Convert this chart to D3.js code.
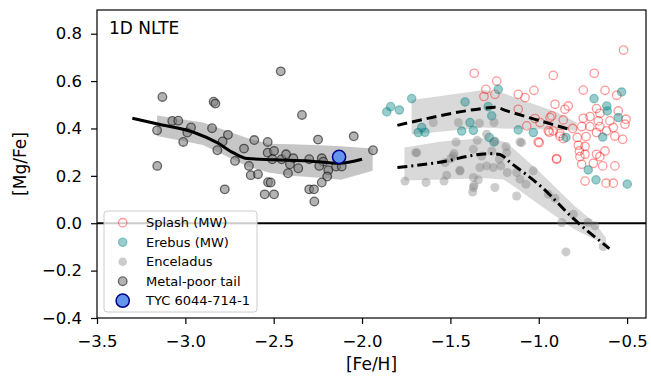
<!DOCTYPE html>
<html><head><meta charset="utf-8">
<script src="https://cdn.jsdelivr.net/npm/d3@7"></script>
<style>body{margin:0;background:#fff}svg{display:block;font-family:"DejaVu Sans",sans-serif}</style>
</head><body><svg id="c" width="651" height="376"></svg>
<script>
// ---- data ----
const xTicks = [-3.5, -3.0, -2.5, -2.0, -1.5, -1.0, -0.5];
const yTicks = [-0.4, -0.2, 0.0, 0.2, 0.4, 0.6, 0.8];
const legendLabels = ["Splash (MW)", "Erebus (MW)", "Enceladus", "Metal-poor tail", "TYC 6044-714-1"];

const mptFe = [-3.13,-2.84,-2.83,-3.074,-3.04,-3.16,-2.989,-2.968,-3.012,-2.849,-2.759,-2.789,-2.819,-2.61,-2.668,-2.719,-2.64,-2.63,-2.589,-3.159,-2.777,-2.534,-2.534,-2.551,-2.532,-2.46,-2.34,-2.249,-2.047,-1.938,-2.498,-2.508,-2.455,-2.43,-2.389,-2.408,-2.361,-2.419,-2.299,-2.228,-2.219,-2.242,-2.191,-2.197,-2.228,-2.147,-2.115,-2.517,-2.498,-2.299,-2.272,-2.27];
const mptMg = [0.533,0.513,0.505,0.432,0.433,0.392,0.383,0.404,0.343,0.401,0.373,0.345,0.308,0.351,0.315,0.263,0.242,0.203,0.207,0.242,0.143,0.343,0.298,0.122,0.173,0.641,0.457,0.353,0.367,0.308,0.305,0.27,0.27,0.291,0.274,0.249,0.232,0.211,0.27,0.274,0.26,0.242,0.224,0.197,0.172,0.239,0.239,0.172,0.122,0.143,0.143,0.092];

const encFe = [-1.597,-1.455,-1.336,-1.253,-1.696,-1.468,-1.348,-1.295,-1.248,-1.185,-1.48,-1.497,-1.37,-1.323,-1.266,-1.223,-1.446,-1.333,-1.295,-1.257,-1.215,-1.178,-1.757,-1.638,-1.536,-1.521,-1.37,-1.342,-1.366,-1.374,-1.248,-1.106,-1.181,-1.53,-1.483,-1.446,-1.125,-1.106,-1.125,-1.031,-1.072,-0.946,-0.908,-0.87,-0.804,-0.72,-0.682,-0.846,-0.635,-1.097,-1.69,-1.37];
const encMg = [0.425,0.425,0.422,0.425,0.298,0.343,0.35,0.376,0.347,0.324,0.294,0.273,0.312,0.284,0.305,0.27,0.224,0.235,0.242,0.235,0.242,0.214,0.178,0.172,0.178,0.203,0.193,0.183,0.16,0.132,0.151,0.343,0.298,0.256,0.284,0.22,0.214,0.186,0.115,0.221,0.165,0.122,0.105,0.003,0.038,0.003,-0.011,-0.121,-0.098,0.34,0.298,0.151];

const ereFe = [-1.86,-1.838,-1.789,-1.719,-1.682,-1.662,-1.644,-1.417,-1.436,-1.37,-1.389,-1.286,-1.266,-1.229,-1.28,-1.253,-1.116,-1.031,-0.846,-0.687,-0.615,-0.612,-0.55,-0.531,-0.638,-0.72,-0.676,-0.499];
const ereMg = [0.47,0.492,0.478,0.526,0.383,0.404,0.384,0.512,0.389,0.392,0.425,0.492,0.453,0.565,0.362,0.343,0.394,0.383,0.362,0.526,0.495,0.474,0.446,0.554,0.364,0.225,0.183,0.165];

const splFe = [-0.52,-0.918,-0.686,-1.027,-0.748,-0.625,-0.559,-1.116,-1.078,-0.908,-0.852,-0.833,-1.116,-0.673,-0.654,-0.55,-0.748,-0.71,-0.663,-0.597,-0.506,-0.512,-0.927,-0.861,-1.068,-0.946,-0.88,-0.861,-0.808,-0.782,-0.757,-0.732,-0.71,-0.673,-0.654,-0.616,-0.578,-0.569,-0.525,-0.997,-0.776,-0.738,-0.77,-0.738,-0.767,-0.673,-0.654,-0.625,-0.757,-0.691,-0.638,-0.569,-0.899,-0.738,-0.619,-0.578,-1.365,-1.299,-1.238,-1.31,-1.248,-1.021,-0.993,-0.936,-0.918,-1.003,-0.899,-0.88,-0.94];
const splMg = [0.731,0.624,0.633,0.561,0.562,0.561,0.54,0.544,0.53,0.502,0.481,0.495,0.481,0.484,0.464,0.474,0.443,0.45,0.432,0.432,0.439,0.418,0.453,0.436,0.411,0.39,0.378,0.357,0.4,0.362,0.408,0.366,0.408,0.383,0.408,0.39,0.404,0.368,0.354,0.34,0.329,0.324,0.305,0.291,0.281,0.291,0.281,0.305,0.249,0.253,0.242,0.242,0.273,0.178,0.169,0.169,0.633,0.565,0.6,0.535,0.544,0.442,0.425,0.446,0.39,0.343,0.27,0.368,0.384];

const tycFe = [-2.13];
const tycMg = [0.28];

const mptLineFe = [-3.30,-3.15,-2.95,-2.82,-2.73,-2.65,-2.50,-2.30,-2.13,-2.00];
const mptLineMg = [0.443,0.418,0.383,0.340,0.298,0.273,0.268,0.263,0.253,0.270];
const mptBandFe = [-3.16,-2.90,-2.65,-2.53,-2.40,-2.20,-2.12,-1.94];
const mptBandHi = [0.455,0.425,0.36,0.335,0.333,0.328,0.325,0.315];
const mptBandLo = [0.368,0.33,0.24,0.214,0.20,0.19,0.183,0.221];

const ereLineFe = [-1.80,-1.30,-1.25,-1.18,-0.83];
const ereLineMg = [0.413,0.486,0.49,0.474,0.397];
const ereBandFe = [-1.72,-1.31,-1.21,-0.90,-0.785];
const ereBandHi = [0.52,0.562,0.551,0.47,0.425];
const ereBandLo = [0.375,0.404,0.40,0.395,0.39];

const encLineFe = [-1.80,-1.52,-1.39,-1.28,-1.22,-1.16,-0.99,-0.80,-0.60];
const encLineMg = [0.235,0.263,0.284,0.294,0.29,0.256,0.157,0.017,-0.107];
const encBandFe = [-1.76,-1.55,-1.30,-1.20,-1.15,-1.00,-0.80,-0.68,-0.62];
const encBandHi = [0.32,0.345,0.36,0.345,0.32,0.22,0.075,0.0,-0.06];
const encBandLo = [0.18,0.185,0.19,0.185,0.16,0.08,-0.025,-0.07,-0.085];

// ---- chart ----
const svg = d3.select("#c");
const L = 97, R = 646, T = 10, B = 318;
const x = d3.scaleLinear().domain([-3.5, -0.393]).range([L, R]);
const y = d3.scaleLinear().domain([-0.4, 0.9]).range([B, T]);
const fmt = v => d3.format(".1f")(v).replace("-", "\u2212");
const zip = (a, b) => a.map((v, i) => [v, b[i]]);
const zip3 = (a, b, c) => a.map((v, i) => [v, b[i], c[i]]);

const g = svg.append("g");
g.append("defs").append("clipPath").attr("id", "clip").append("rect")
  .attr("x", L).attr("y", T).attr("width", R - L).attr("height", B - T);
const plot = g.append("g").attr("clip-path", "url(#clip)");

// bands
const area = d3.area().x(d => x(d[0])).y0(d => y(d[2])).y1(d => y(d[1]));
plot.append("path").datum(zip3(mptBandFe, mptBandHi, mptBandLo)).attr("d", area)
  .attr("fill", "#808080").attr("fill-opacity", 0.45);
plot.append("path").datum(zip3(ereBandFe, ereBandHi, ereBandLo)).attr("d", area)
  .attr("fill", "#a0a0a0").attr("fill-opacity", 0.4);
plot.append("path").datum(zip3(encBandFe, encBandHi, encBandLo)).attr("d", area)
  .attr("fill", "#a0a0a0").attr("fill-opacity", 0.4);

// zero line
plot.append("line").attr("x1", L).attr("x2", R).attr("y1", y(0)).attr("y2", y(0))
  .attr("stroke", "#000").attr("stroke-width", 2);

// points
plot.append("g").selectAll("circle").data(zip(splFe, splMg)).join("circle")
  .attr("cx", d => x(d[0])).attr("cy", d => y(d[1])).attr("r", 4.2)
  .attr("fill", "none").attr("stroke", "#ff0000").attr("stroke-opacity", 0.4).attr("stroke-width", 1.3);
plot.append("g").selectAll("circle").data(zip(ereFe, ereMg)).join("circle")
  .attr("cx", d => x(d[0])).attr("cy", d => y(d[1])).attr("r", 4.2)
  .attr("fill", "#008080").attr("fill-opacity", 0.4)
  .attr("stroke", "#008080").attr("stroke-opacity", 0.4).attr("stroke-width", 1.2);
plot.append("g").selectAll("circle").data(zip(encFe, encMg)).join("circle")
  .attr("cx", d => x(d[0])).attr("cy", d => y(d[1])).attr("r", 4.5)
  .attr("fill", "#808080").attr("fill-opacity", 0.4);
plot.append("g").selectAll("circle").data(zip(mptFe, mptMg)).join("circle")
  .attr("cx", d => x(d[0])).attr("cy", d => y(d[1])).attr("r", 4.3)
  .attr("fill", "#808080").attr("fill-opacity", 0.6)
  .attr("stroke", "#000").attr("stroke-opacity", 0.55).attr("stroke-width", 1.3);

// trend lines
const line = d3.line().x(d => x(d[0])).y(d => y(d[1])).curve(d3.curveMonotoneX);
plot.append("path").datum(zip(mptLineFe, mptLineMg)).attr("d", line)
  .attr("fill", "none").attr("stroke", "#000").attr("stroke-width", 3);
plot.append("path").datum(zip(ereLineFe, ereLineMg)).attr("d", line)
  .attr("fill", "none").attr("stroke", "#000").attr("stroke-width", 3).attr("stroke-dasharray", "10,5");
plot.append("path").datum(zip(encLineFe, encLineMg)).attr("d", line)
  .attr("fill", "none").attr("stroke", "#000").attr("stroke-width", 3).attr("stroke-dasharray", "10,4,2,4");

// TYC star
plot.append("g").selectAll("circle").data(zip(tycFe, tycMg)).join("circle")
  .attr("cx", d => x(d[0])).attr("cy", d => y(d[1])).attr("r", 6.6)
  .attr("fill", "#6495ED").attr("stroke", "#00008b").attr("stroke-width", 1.5);

// axes
const xAxis = g.append("g").attr("transform", `translate(0,${B})`)
  .call(d3.axisBottom(x).tickValues(xTicks).tickFormat(fmt).tickSize(6).tickPadding(11));
const yAxis = g.append("g").attr("transform", `translate(${L},0)`)
  .call(d3.axisLeft(y).tickValues(yTicks).tickFormat(fmt).tickSize(6).tickPadding(9));
[xAxis, yAxis].forEach(a => {
  a.select(".domain").remove();
  a.selectAll("line").attr("stroke", "#000").attr("stroke-width", 1.2);
  a.selectAll("text").attr("fill", "#000").style("font-size", "16.5px").style("font-family", "DejaVu Sans");
});
g.append("rect").attr("x", L).attr("y", T).attr("width", R - L).attr("height", B - T)
  .attr("fill", "none").attr("stroke", "#000").attr("stroke-width", 1.2);

// labels
g.append("text").attr("x", (L + R) / 2).attr("y", 370).attr("text-anchor", "middle")
  .style("font-size", "17px").text("[Fe/H]");
g.append("text").attr("transform", `translate(26,${(T + B) / 2}) rotate(-90)`).attr("text-anchor", "middle")
  .style("font-size", "17px").text("[Mg/Fe]");
g.append("text").attr("x", 109).attr("y", 34).style("font-size", "17px").text("1D NLTE");

// legend
const lg = g.append("g");
lg.append("rect").attr("x", 104).attr("y", 211).attr("width", 153).attr("height", 101).attr("rx", 3)
  .attr("fill", "#fff").attr("fill-opacity", 0.8).attr("stroke", "#cccccc").attr("stroke-width", 1);
const rows = legendLabels.map((t, i) => ({t, i, yy: 222.7 + i * 19.5}));
rows.forEach(r => {
  const c = lg.append("circle").attr("cx", 122.7).attr("cy", r.yy);
  if (r.i === 0) c.attr("r", 4.2).attr("fill", "none").attr("stroke", "#ff0000").attr("stroke-opacity", 0.4).attr("stroke-width", 1.3);
  if (r.i === 1) c.attr("r", 4.2).attr("fill", "#008080").attr("fill-opacity", 0.4).attr("stroke", "#008080").attr("stroke-opacity", 0.4).attr("stroke-width", 1.2);
  if (r.i === 2) c.attr("r", 4.3).attr("fill", "#808080").attr("fill-opacity", 0.4);
  if (r.i === 3) c.attr("r", 4.3).attr("fill", "#808080").attr("fill-opacity", 0.6).attr("stroke", "#000").attr("stroke-opacity", 0.55).attr("stroke-width", 1.3);
  if (r.i === 4) c.attr("r", 6.6).attr("fill", "#6495ED").attr("stroke", "#00008b").attr("stroke-width", 1.5);
  lg.append("text").attr("x", 146).attr("y", r.yy + 4.7).style("font-size", "13px").text(r.t);
});
</script></body></html>
